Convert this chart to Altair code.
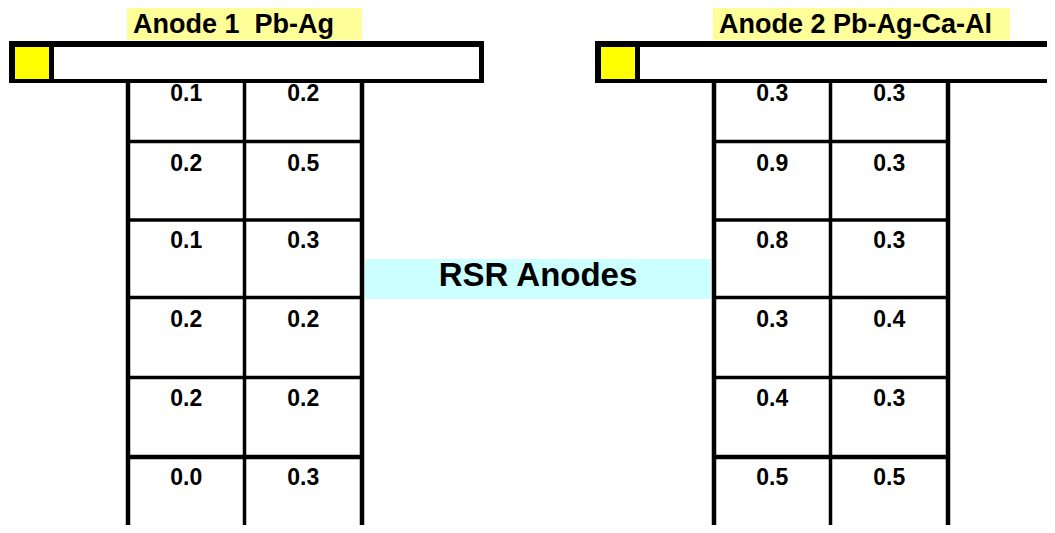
import altair as alt
import pandas as pd

# ---- data ----
titles = ["Anode 1\u00a0\u00a0Pb-Ag", "Anode 2 Pb-Ag-Ca-Al"]
center_title = "RSR Anodes"
anode1_col1 = [0.1, 0.2, 0.1, 0.2, 0.2, 0.0]
anode1_col2 = [0.2, 0.5, 0.3, 0.2, 0.2, 0.3]
anode2_col1 = [0.3, 0.9, 0.8, 0.3, 0.4, 0.5]
anode2_col2 = [0.3, 0.3, 0.3, 0.4, 0.3, 0.5]

# ---- layout (page pixel coordinates; the page keeps an 8px margin) ----
X0, X1, Y0, Y1 = 8, 1047, 8, 525
BOTTOM = 533
group_offset = [0, 586]
grid_lines_x = [128, 244.5, 362]
grid_line_w = [4.5, 3.5, 4.5]
row_lines_y = [141.5, 220, 297.5, 377.5, 457]
row_line_w = [3.5, 3.5, 3.5, 3.5, 4.5]
label_base_y = [101, 171, 248, 327, 406, 485]
title_box = [(127, 362), (713, 1010)]
FONT = "Liberation Sans"

groups = [[anode1_col1, anode1_col2], [anode2_col1, anode2_col2]]

rects, vrules, hrules, labels, tlabels = [], [], [], [], []
for g, off in enumerate(group_offset):
    rects.append(dict(x=title_box[g][0], x2=title_box[g][1], y=8, y2=40, c="#FFFF99", o=0))
    rects.append(dict(x=9 + off, x2=484 + off, y=41, y2=83, c="#000000", o=1))
    rects.append(dict(x=15 + off, x2=49 + off, y=47, y2=79, c="#FFFF00", o=2))
    rects.append(dict(x=54 + off, x2=479 + off, y=47, y2=79, c="#FFFFFF", o=2))
    tlabels.append(dict(x=title_box[g][0] + 6, y=32.5, t=titles[g]))
    for xi, w in zip(grid_lines_x, grid_line_w):
        vrules.append(dict(x=xi + off, y=80, y2=BOTTOM, w=w))
    for yi, w in zip(row_lines_y, row_line_w):
        hrules.append(dict(x=grid_lines_x[0] - 2 + off, x2=grid_lines_x[-1] + 2 + off, y=yi, w=w))
    for ci, col in enumerate(groups[g]):
        cx = (grid_lines_x[ci] + grid_lines_x[ci + 1]) / 2 + off
        for ri, v in enumerate(col):
            labels.append(dict(x=cx, y=label_base_y[ri], v=v))

rects.append(dict(x=365, x2=711, y=259, y2=299, c="#CCFFFF", o=0))

xs = alt.Scale(domain=[X0, X1])
ys = alt.Scale(domain=[Y0, Y1], reverse=True)

rect_layer = alt.Chart(pd.DataFrame(rects)).mark_rect(clip=True).encode(
    x=alt.X("x:Q", scale=xs, axis=None),
    x2="x2:Q",
    y=alt.Y("y:Q", scale=ys, axis=None),
    y2="y2:Q",
    color=alt.Color("c:N", scale=None),
    order="o:Q",
)

vrule_layer = alt.Chart(pd.DataFrame(vrules)).mark_rule(color="black", clip=True).encode(
    x=alt.X("x:Q", scale=xs, axis=None),
    y=alt.Y("y:Q", scale=ys, axis=None),
    y2="y2:Q",
    strokeWidth=alt.StrokeWidth("w:Q", scale=None),
)

hrule_layer = alt.Chart(pd.DataFrame(hrules)).mark_rule(color="black", clip=True).encode(
    x=alt.X("x:Q", scale=xs, axis=None),
    x2="x2:Q",
    y=alt.Y("y:Q", scale=ys, axis=None),
    strokeWidth=alt.StrokeWidth("w:Q", scale=None),
)

label_layer = alt.Chart(pd.DataFrame(labels)).mark_text(
    font=FONT, fontWeight="bold", fontSize=23, align="center", baseline="alphabetic", color="black"
).encode(
    x=alt.X("x:Q", scale=xs, axis=None),
    y=alt.Y("y:Q", scale=ys, axis=None),
    text=alt.Text("v:Q", format=".1f"),
)

title_layer = alt.Chart(pd.DataFrame(tlabels)).mark_text(
    font=FONT, fontWeight="bold", fontSize=27, align="left", baseline="alphabetic", color="black"
).encode(
    x=alt.X("x:Q", scale=xs, axis=None),
    y=alt.Y("y:Q", scale=ys, axis=None),
    text="t:N",
)

center_layer = alt.Chart(pd.DataFrame([dict(x=538, y=286, t=center_title)])).mark_text(
    font=FONT, fontWeight="bold", fontSize=33, align="center", baseline="alphabetic", color="black"
).encode(
    x=alt.X("x:Q", scale=xs, axis=None),
    y=alt.Y("y:Q", scale=ys, axis=None),
    text="t:N",
)

chart = alt.layer(
    rect_layer, vrule_layer, hrule_layer, label_layer, title_layer, center_layer
).properties(
    width=X1 - X0, height=Y1 - Y0, autosize=alt.AutoSizeParams(type="none"), padding=0,
    background="white",
).configure_view(stroke=None)

chart.save("out.html", embed_options={"renderer": "svg", "actions": False})
